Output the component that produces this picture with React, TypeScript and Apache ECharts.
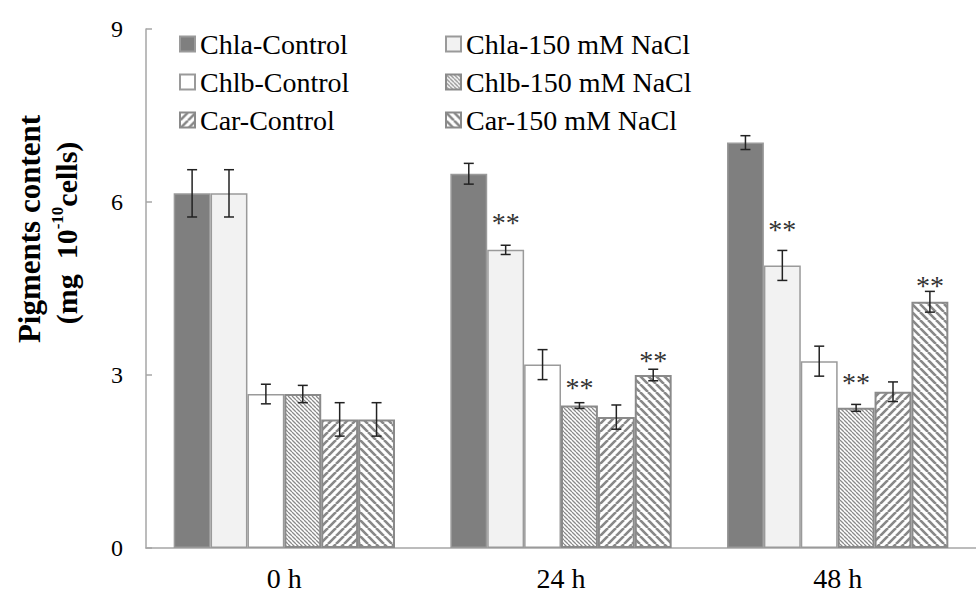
import React, { useEffect, useRef } from "react";
import * as echarts from "echarts";

const categories = ["0 h", "24 h", "48 h"];
const seriesNames = [
  "Chla-Control",
  "Chla-150 mM NaCl",
  "Chlb-Control",
  "Chlb-150 mM NaCl",
  "Car-Control",
  "Car-150 mM NaCl",
];
const chlaControl = [6.15, 6.49, 7.03];
const chlaNaCl = [6.15, 5.17, 4.9];
const chlbControl = [2.67, 3.18, 3.24];
const chlbNaCl = [2.67, 2.47, 2.43];
const carControl = [2.23, 2.27, 2.71];
const carNaCl = [2.23, 3.0, 4.27];

const chlaControlErr = [0.41, 0.18, 0.12];
const chlaNaClErr = [0.41, 0.08, 0.26];
const chlbControlErr = [0.17, 0.26, 0.26];
const chlbNaClErr = [0.15, 0.05, 0.06];
const carControlErr = [0.29, 0.21, 0.17];
const carNaClErr = [0.29, 0.1, 0.18];

// "**" significance marks (level in data units, null = none)
const chlaNaClStar = [null, 5.69, 5.57];
const chlbNaClStar = [null, 2.84, 2.93];
const carNaClStar = [null, 3.31, 4.6];

const yTicks = [0, 3, 6, 9];

const FONT = "'Liberation Serif', 'Times New Roman', serif";

function hatch(period: number, width: number, dir: 1 | -1, color: string) {
  const c = document.createElement("canvas");
  c.width = period;
  c.height = period;
  const ctx = c.getContext("2d")!;
  ctx.fillStyle = "#ffffff";
  ctx.fillRect(0, 0, period, period);
  ctx.strokeStyle = color;
  ctx.lineWidth = width;
  ctx.beginPath();
  for (let k = -1; k <= 1; k++) {
    if (dir === 1) {
      ctx.moveTo(k * period, period);
      ctx.lineTo(k * period + period, 0);
    } else {
      ctx.moveTo(k * period, 0);
      ctx.lineTo(k * period + period, period);
    }
  }
  ctx.stroke();
  return { image: c, repeat: "repeat", imageWidth: period, imageHeight: period } as any;
}

export default function App() {
  const ref = useRef<HTMLDivElement>(null);
  useEffect(() => {
    const chart = echarts.init(ref.current!, undefined, { renderer: "svg" });
    const values = [chlaControl, chlaNaCl, chlbControl, chlbNaCl, carControl, carNaCl];
    const errs = [chlaControlErr, chlaNaClErr, chlbControlErr, chlbNaClErr, carControlErr, carNaClErr];
    const stars: (number | null)[][] = [
      [null, null, null],
      chlaNaClStar,
      [null, null, null],
      chlbNaClStar,
      [null, null, null],
      carNaClStar,
    ];
    const border = "#9a9a9a";
    const styles: any[] = [
      { color: "#7f7f7f", borderColor: "#9a9a9a", borderWidth: 1.5 },
      { color: "#f2f2f2", borderColor: border, borderWidth: 1.5 },
      { color: "#ffffff", borderColor: border, borderWidth: 1.5 },
      { color: hatch(4, 1.3, -1, "#8a8a8a"), borderColor: "#8a8a8a", borderWidth: 2 },
      { color: hatch(8, 2.6, 1, "#888888"), borderColor: "#8a8a8a", borderWidth: 2 },
      { color: hatch(8, 2.6, -1, "#888888"), borderColor: "#8a8a8a", borderWidth: 2 },
    ];
    const barSeries = seriesNames.map((name, i) => ({
      name,
      type: "bar",
      data: values[i],
      barGap: "0%",
      barCategoryGap: "20%",
      itemStyle: styles[i],
      emphasis: { disabled: true },
    }));
    const errData: number[][] = [];
    values.forEach((vals, s) => {
      vals.forEach((v, c) => {
        const st = stars[s][c];
        errData.push([c, v, errs[s][c], s, st == null ? -1 : st]);
      });
    });
    const errSeries = {
      type: "custom",
      z: 10,
      silent: true,
      encode: { x: 0, y: 1 },
      data: errData,
      renderItem: (params: any, api: any) => {
        const c = api.value(0);
        const v = api.value(1);
        const e = api.value(2);
        const s = api.value(3);
        const st = api.value(4);
        const band = api.size([1, 0])[0];
        const bw = (band * 0.8) / 6;
        const cx = api.coord([c, 0])[0] + (s - 2.5) * bw;
        const top = api.coord([c, v + e])[1];
        const bot = api.coord([c, v - e])[1];
        const cap = 5;
        const ls = { stroke: "#222222", lineWidth: 1.5 };
        const children: any[] = [
          { type: "line", shape: { x1: cx, y1: top, x2: cx, y2: bot }, style: ls },
          { type: "line", shape: { x1: cx - cap, y1: top, x2: cx + cap, y2: top }, style: ls },
          { type: "line", shape: { x1: cx - cap, y1: bot, x2: cx + cap, y2: bot }, style: ls },
        ];
        if (st > 0) {
          const sy = api.coord([c, st])[1];
          children.push({
            type: "text",
            x: cx,
            y: sy + 3,
            style: {
              text: "**",
              fill: "#333333",
              fontSize: 28,
              fontFamily: FONT,
              align: "center",
              verticalAlign: "middle",
            },
          });
        }
        return { type: "group", children };
      },
    };
    const legendCommon = {
      orient: "vertical",
      top: 25,
      itemWidth: 15,
      itemHeight: 15,
      itemGap: 10,
      icon: "rect",
      selectedMode: false,
      textStyle: { fontFamily: FONT, fontSize: 28, color: "#000000", lineHeight: 28 },
    };
    chart.setOption({
      animation: false,
      backgroundColor: "#ffffff",
      legend: [
        { ...legendCommon, left: 174, data: [seriesNames[0], seriesNames[2], seriesNames[4]] },
        { ...legendCommon, left: 440, data: [seriesNames[1], seriesNames[3], seriesNames[5]] },
      ],
      grid: { left: 146, right: -10, top: 29, bottom: 42, containLabel: false },
      xAxis: {
        type: "category",
        data: categories,
        axisLine: { lineStyle: { color: "#a6a6a6", width: 1.5 } },
        axisTick: { inside: true, length: 6, lineStyle: { color: "#a6a6a6", width: 1.5 } },
        axisLabel: { fontFamily: FONT, fontSize: 28, color: "#000000", margin: 16 },
      },
      yAxis: {
        type: "value",
        min: yTicks[0],
        max: yTicks[yTicks.length - 1],
        interval: 3,
        splitLine: { show: false },
        axisLine: { show: true, lineStyle: { color: "#a6a6a6", width: 1.5 } },
        axisTick: { show: true, inside: true, length: 6, lineStyle: { color: "#a6a6a6", width: 1.5 } },
        axisLabel: { fontFamily: FONT, fontSize: 24, color: "#000000", margin: 23 },
      },
      graphic: [
        {
          type: "text",
          x: 29,
          y: 229,
          rotation: Math.PI / 2,
          style: {
            text: "Pigments content",
            fontFamily: FONT,
            fontSize: 31,
            fontWeight: "bold",
            fill: "#000000",
            align: "center",
            verticalAlign: "middle",
          },
        },
        {
          type: "text",
          x: 65,
          y: 233,
          rotation: Math.PI / 2,
          style: {
            text: "{b|(mg  10}{s|-10}{b|cells)}",
            align: "center",
            verticalAlign: "middle",
            fill: "#000000",
            rich: {
              b: { fontFamily: FONT, fontSize: 30, fontWeight: "bold", lineHeight: 32, verticalAlign: "bottom" },
              s: { fontFamily: FONT, fontSize: 17, fontWeight: "bold", lineHeight: 32, verticalAlign: "top" },
            },
          },
        },
      ],
      series: [...barSeries, errSeries],
    });
    return () => chart.dispose();
  }, []);
  return (
    <div
      ref={ref}
      style={{ position: "fixed", left: 0, top: 0, width: 976, height: 592, background: "#fff" }}
    />
  );
}
